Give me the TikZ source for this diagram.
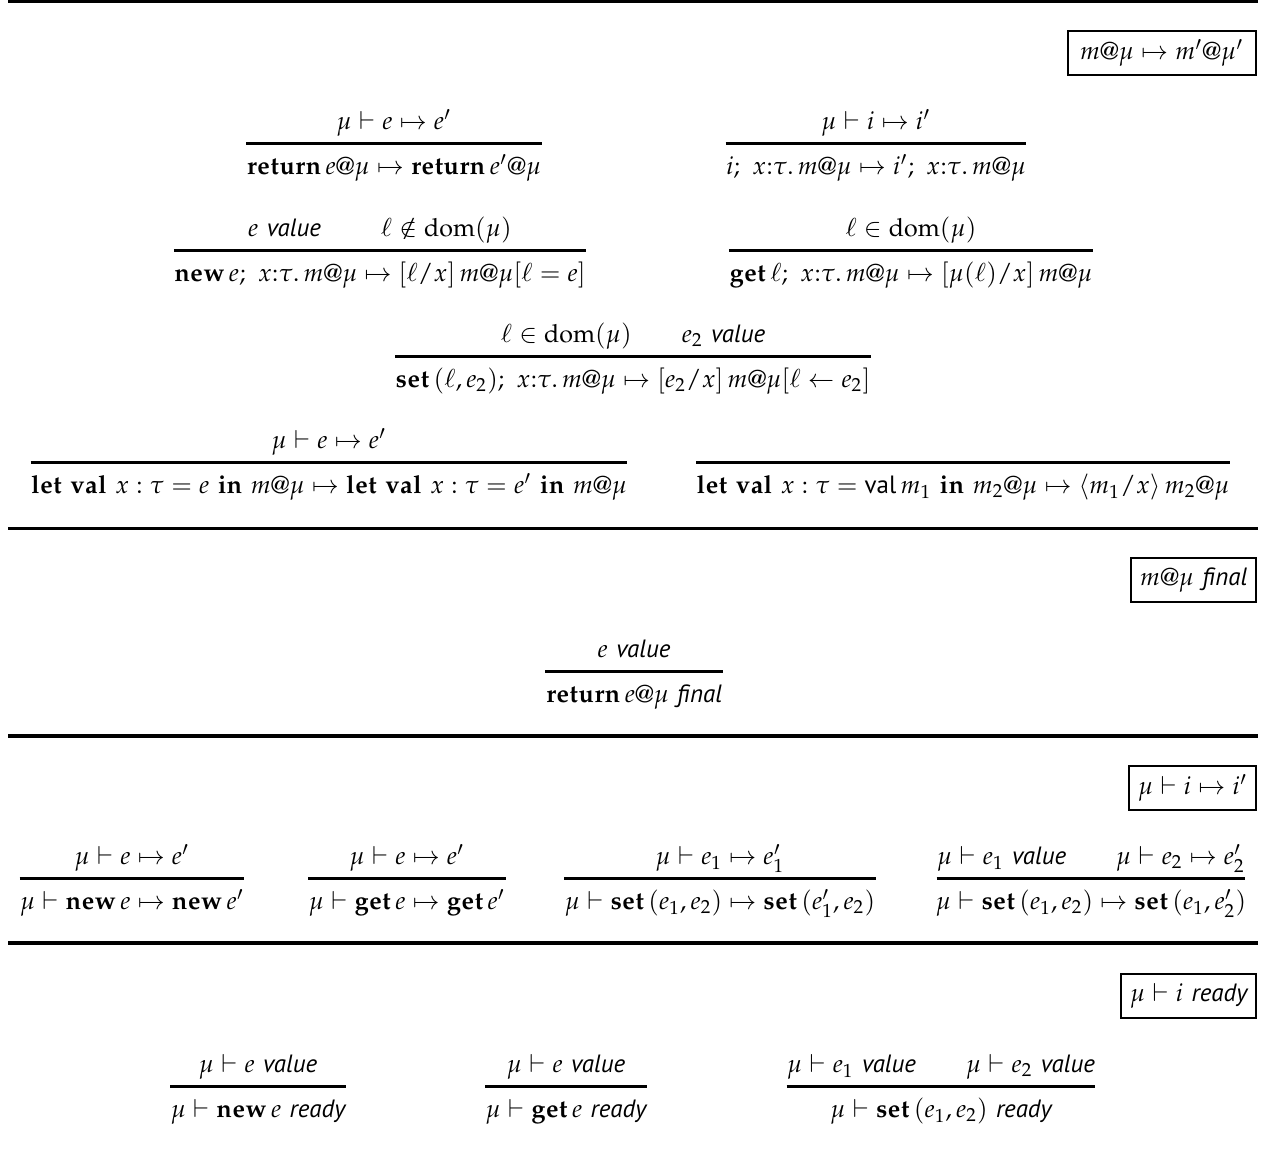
\documentclass[tikz,border=0pt]{standalone}
\usepackage{amsmath,amssymb}
\usepackage{mathpazo}
\usepackage[no-math]{fontspec}
\newfontfamily\judgfont{PT Sans}
\usetikzlibrary{positioning}
\newcommand{\jw}[1]{\text{\judgfont\itshape #1}}
\newcommand{\kw}[1]{\mathbf{#1}}
\tikzset{
  jline/.style={inner xsep=0pt, inner ysep=3pt, text height=9pt, text depth=2.6pt},
  infbar/.style={line width=1.2pt},
  secline/.style={line width=1.3pt},
  judgbox/.style={draw, line width=0.8pt, inner xsep=3.5pt, inner ysep=3pt, minimum height=17.6pt, anchor=east}
}
\begin{document}
\begin{tikzpicture}[x=0.4pt,y=-0.4pt]
\useasboundingbox (0,0) rectangle (1268,1150);

% Section lines
\draw [secline] (8,1) -- (1258,1);
\draw [secline] (8,528.5) -- (1258,528.5);
\draw [secline] (8,736) -- (1258,736);
\draw [secline] (8,943) -- (1258,943);

% Judgement boxes
\node [judgbox, inner xsep=5pt] (jStep) at (1257,53) {$m@\mu \mapsto m'@\mu'$};
\node [judgbox] (jFinal) at (1257,580) {$m@\mu\ \jw{final}$};
\node [judgbox] (jInstr) at (1257,788) {$\mu \vdash i \mapsto i'$};
\node [judgbox] (jReady) at (1257,996) {$\mu \vdash i\ \jw{ready}$};

% Rule return step
\node [jline, anchor=north] (retC) at (394,144) {$\kw{return}\,e@\mu \mapsto \kw{return}\,e'@\mu$};
\node [jline, anchor=south] (retP) at (394,144) {$\mu \vdash e \mapsto e'$};
\draw [infbar] (retC.north west) -- (retC.north east);

% Rule instruction step
\node [jline, anchor=north] (seqC) at (876,144) {$i;\ x{:}\tau.\,m@\mu \mapsto i';\ x{:}\tau.\,m@\mu$};
\node [jline, anchor=south] (seqP) at (876,144) {$\mu \vdash i \mapsto i'$};
\draw [infbar] (seqC.north west) -- (seqC.north east);

% Rule new
\node [jline, anchor=north] (newC) at (380,251) {$\kw{new}\,e;\ x{:}\tau.\,m@\mu \mapsto [\ell/x]\,m@\mu[\ell = e]$};
\node [jline, anchor=south] (newP) at (380,251) {$e\ \jw{value} \hspace{2.4em} \ell \notin \mathrm{dom}(\mu)$};
\draw [infbar] (newC.north west) -- (newC.north east);

% Rule get
\node [jline, anchor=north] (getC) at (911,251) {$\kw{get}\,\ell;\ x{:}\tau.\,m@\mu \mapsto [\mu(\ell)/x]\,m@\mu$};
\node [jline, anchor=south] (getP) at (911,251) {$\ell \in \mathrm{dom}(\mu)$};
\draw [infbar] (getC.north west) -- (getC.north east);

% Rule set
\node [jline, anchor=north] (setC) at (633,357) {$\kw{set}\,(\ell, e_2);\ x{:}\tau.\,m@\mu \mapsto [e_2/x]\,m@\mu[\ell \leftarrow e_2]$};
\node [jline, anchor=south] (setP) at (633,357) {$\ell \in \mathrm{dom}(\mu) \qquad e_2\ \jw{value}$};
\draw [infbar] (setC.north west) -- (setC.north east);

% Rule let step
\node [jline, anchor=north] (letC) at (329,463) {$\kw{let}\ \kw{val}\ x : \tau = e\ \kw{in}\ m@\mu \mapsto \kw{let}\ \kw{val}\ x : \tau = e'\ \kw{in}\ m@\mu$};
\node [jline, anchor=south] (letP) at (329,463) {$\mu \vdash e \mapsto e'$};
\draw [infbar] (letC.north west) -- (letC.north east);

% Rule let value
\node [jline, anchor=north] (lvC) at (963,463) {$\kw{let}\ \kw{val}\ x : \tau = \text{\judgfont val}\,m_1\ \kw{in}\ m_2@\mu \mapsto \langle m_1/x\rangle\,m_2@\mu$};
\draw [infbar] (lvC.north west) -- (lvC.north east);

% Rule return final
\node [jline, anchor=north] (finC) at (634,672) {$\kw{return}\,e@\mu\ \jw{final}$};
\node [jline, anchor=south] (finP) at (634,672) {$e\ \jw{value}$};
\draw [infbar] (finC.north west) -- (finC.north east);

% Rules instruction steps
\node [jline, anchor=north] (inewC) at (132,879) {$\mu \vdash \kw{new}\,e \mapsto \kw{new}\,e'$};
\node [jline, anchor=south] (inewP) at (132,879) {$\mu \vdash e \mapsto e'$};
\draw [infbar] (inewC.north west) -- (inewC.north east);

\node [jline, anchor=north] (igetC) at (407,879) {$\mu \vdash \kw{get}\,e \mapsto \kw{get}\,e'$};
\node [jline, anchor=south] (igetP) at (407,879) {$\mu \vdash e \mapsto e'$};
\draw [infbar] (igetC.north west) -- (igetC.north east);

\node [jline, anchor=north] (isetaC) at (720,879) {$\mu \vdash \kw{set}\,(e_1, e_2) \mapsto \kw{set}\,(e_1', e_2)$};
\node [jline, anchor=south] (isetaP) at (720,879) {$\mu \vdash e_1 \mapsto e_1'$};
\draw [infbar] (isetaC.north west) -- (isetaC.north east);

\node [jline, anchor=north] (isetbC) at (1091,879) {$\mu \vdash \kw{set}\,(e_1, e_2) \mapsto \kw{set}\,(e_1, e_2')$};
\node [jline, anchor=south] (isetbP) at (1091,879) {$\mu \vdash e_1\ \jw{value} \qquad \mu \vdash e_2 \mapsto e_2'$};
\draw [infbar] (isetbP.south west) -- (isetbP.south east);

% Rules ready
\node [jline, anchor=north] (rnewC) at (258,1087) {$\mu \vdash \kw{new}\,e\ \jw{ready}$};
\node [jline, anchor=south] (rnewP) at (258,1087) {$\mu \vdash e\ \jw{value}$};
\draw [infbar] (rnewC.north west) -- (rnewC.north east);

\node [jline, anchor=north] (rgetC) at (566,1087) {$\mu \vdash \kw{get}\,e\ \jw{ready}$};
\node [jline, anchor=south] (rgetP) at (566,1087) {$\mu \vdash e\ \jw{value}$};
\draw [infbar] (rgetC.north west) -- (rgetC.north east);

\node [jline, anchor=north] (rsetC) at (941,1087) {$\mu \vdash \kw{set}\,(e_1, e_2)\ \jw{ready}$};
\node [jline, anchor=south] (rsetP) at (941,1087) {$\mu \vdash e_1\ \jw{value} \qquad \mu \vdash e_2\ \jw{value}$};
\draw [infbar] (rsetP.south west) -- (rsetP.south east);
\end{tikzpicture}
\end{document}
